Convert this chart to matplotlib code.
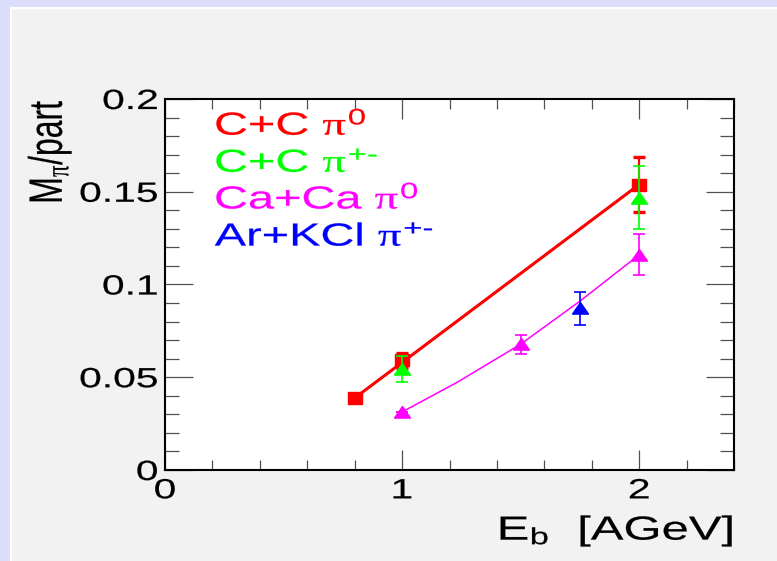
import matplotlib
matplotlib.use("Agg")
import matplotlib.pyplot as plt
from matplotlib.patches import Rectangle
from matplotlib.patheffects import AbstractPathEffect
from matplotlib.text import Text
from matplotlib.ticker import MultipleLocator, FuncFormatter
from matplotlib.transforms import Affine2D

# ---------------- data ----------------
# C+C pi0
cc_pi0_x = [0.8, 1.0, 2.0]
cc_pi0_y = [0.0388, 0.0591, 0.1539]
cc_pi0_err = [0.0, 0.004, 0.015]
# C+C pi+-
cc_pic_x = [1.0, 2.0]
cc_pic_y = [0.0546, 0.1467]
cc_pic_err = [0.007, 0.017]
# Ca+Ca pi0
caca_x = [1.0, 1.5, 2.0]
caca_y = [0.0313, 0.0678, 0.116]
caca_err = [0.0, 0.005, 0.011]
# Ar+KCl pi+-
arkcl_x = [1.75]
arkcl_y = [0.0871]
arkcl_err = [0.009]

# fit curves
cc_fit_x = [0.8, 2.0]
cc_fit_y = [0.0388, 0.1539]
caca_fit_x = [1.0, 1.234, 1.5, 1.75, 2.0]
caca_fit_y = [0.0313, 0.0474, 0.0678, 0.0910, 0.116]

labels = [r"C+C $\pi^0$", r"C+C $\pi^{+\text{-}}$",
          r"Ca+Ca $\pi^0$", r"Ar+KCl $\pi^{+\text{-}}$"]
colors = ["#ff0000", "#00ff00", "#ff00ff", "#0000ff"]

plt.rcParams["font.family"] = ["Liberation Sans", "DejaVu Sans"]
# greek from the serif face (symbol-like pi), digits/signs from the sans face
plt.rcParams["mathtext.fontset"] = "custom"
plt.rcParams["mathtext.rm"] = "Liberation Sans"
plt.rcParams["mathtext.it"] = "Liberation Serif"
plt.rcParams["mathtext.sf"] = "Liberation Sans"


class Widen(AbstractPathEffect):
    """horizontal stretch of glyphs (wide ROOT-like lettering)"""
    def __init__(self, sx=1.47, anchor=0.5, weight=0.15):
        super().__init__()
        self.sx = sx
        self.anchor = anchor
        self.weight = weight

    def draw_path(self, renderer, gc, tpath, affine, rgbFace=None):
        ext = tpath.get_extents(affine)
        xa = ext.x0 + self.anchor * ext.width
        tr = Affine2D(affine.get_matrix().copy())
        tr.translate(-xa, 0).scale(self.sx, 1).translate(xa, 0)
        gc0 = renderer.new_gc()
        gc0.copy_properties(gc)
        if rgbFace is not None:
            gc0.set_foreground(rgbFace)
        gc0.set_linewidth(self.weight)
        renderer.draw_path(gc0, tpath, tr, rgbFace)
        gc0.restore()


sq = [(-1, -0.85), (1, -0.85), (1, 0.85), (-1, 0.85), (-1, -0.85)]
tri = [(-1, -0.7), (1, -0.7), (0, 0.75), (-1, -0.7)]

fig = plt.figure(figsize=(7.77, 5.61), dpi=100)
fig.patch.set_facecolor("#dcdcfc")
fig.patches.append(Rectangle((11 / 777, -0.01), 1.0, 553 / 561 + 0.01,
                             transform=fig.transFigure, facecolor="#f2f2f2",
                             edgecolor="white", lw=1.5, zorder=-10))

ax = fig.add_axes([165 / 777, 91 / 561, 569 / 777, 371 / 561])
ax.set_facecolor("white")

# fits
ax.plot(cc_fit_x, cc_fit_y, color=colors[0], lw=2.2, zorder=2)
ax.plot(caca_fit_x, caca_fit_y, color=colors[2], lw=1.1, zorder=2)

# points
ax.errorbar(cc_pi0_x, cc_pi0_y, yerr=cc_pi0_err, ls="none", marker=sq, ms=10,
            color=colors[0], elinewidth=1.6, capsize=4, capthick=2.4, zorder=3)
ax.errorbar(cc_pic_x, cc_pic_y, yerr=cc_pic_err, ls="none", marker=tri, ms=11.5,
            color=colors[1], elinewidth=1.2, capsize=4.3, capthick=1.2, zorder=4)
ax.errorbar(caca_x, caca_y, yerr=caca_err, ls="none", marker=tri, ms=11.5,
            color=colors[2], elinewidth=1.2, capsize=4.3, capthick=1.2, zorder=4)
ax.errorbar(arkcl_x, arkcl_y, yerr=arkcl_err, ls="none", marker=tri, ms=11.5,
            color=colors[3], elinewidth=1.2, capsize=4.3, capthick=1.2, zorder=4)

for i, (lab, c) in enumerate(zip(labels, colors)):
    ax.text(0.21, 0.1806 - 0.0199 * i, lab, color=c, fontsize=23,
            ha="left", va="baseline")

ax.set_xlim(0, 2.4)
ax.set_ylim(0, 0.2)
ax.xaxis.set_major_locator(MultipleLocator(1))
ax.xaxis.set_minor_locator(MultipleLocator(0.2))
ax.yaxis.set_major_locator(MultipleLocator(0.05))
ax.yaxis.set_minor_locator(MultipleLocator(0.01))
ax.xaxis.set_major_formatter(FuncFormatter(lambda v, p: "%g" % v))
ax.yaxis.set_major_formatter(FuncFormatter(lambda v, p: "%g" % round(v, 3)))

ax.tick_params(which="both", direction="in", top=True, right=True,
               color="#505050", width=0.9, labelsize=20)
ax.tick_params(axis="x", which="major", length=14.5, pad=6)
ax.tick_params(axis="x", which="minor", length=7.2)
ax.tick_params(axis="y", which="major", length=20, pad=5)
ax.tick_params(axis="y", which="minor", length=10)
for s in ax.spines.values():
    s.set_linewidth(1.5)
    s.set_color("black")

ax.set_xlabel(r"E$_\mathrm{b}$  [AGeV]", fontsize=24, loc="right")
ax.xaxis.set_label_coords(1.0, -0.118)
ax.set_ylabel(r"M$_{\pi}$/part", fontsize=23, loc="top")
ax.yaxis.set_label_coords(-0.172, 1.0)

frac = {"left": 0.0, "center": 0.5, "right": 1.0}
for t in fig.findobj(Text):
    t.set_path_effects([Widen(anchor=frac[t.get_ha()])])
ax.yaxis.label.set_path_effects([Widen(anchor=0.5)])

fig.savefig("out.png", dpi=100, facecolor=fig.get_facecolor())
